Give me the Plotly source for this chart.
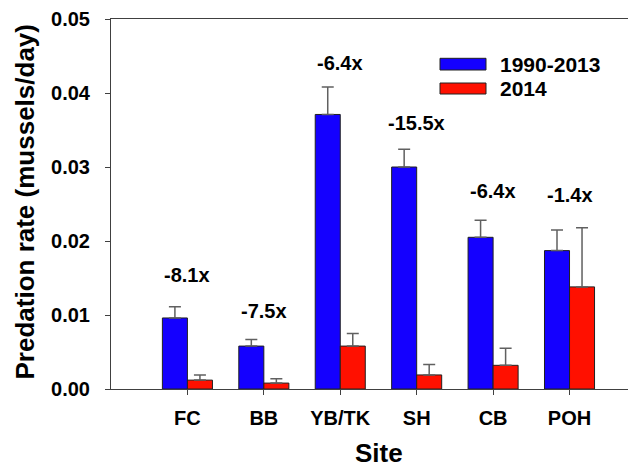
import plotly.graph_objects as go

sites = ["FC", "BB", "YB/TK", "SH", "CB", "POH"]
rate_1990_2013 = [0.0096, 0.0058, 0.0371, 0.0300, 0.0205, 0.0187]
err_1990_2013 = [0.0015, 0.0009, 0.0037, 0.0024, 0.0023, 0.0028]
rate_2014 = [0.0012, 0.0008, 0.0058, 0.0019, 0.0032, 0.0138]
err_2014 = [0.0007, 0.0006, 0.0017, 0.0014, 0.0023, 0.0080]
change_labels = ["-8.1x", "-7.5x", "-6.4x", "-15.5x", "-6.4x", "-1.4x"]
label_y = [0.0154, 0.0106, 0.0440, 0.0359, 0.0267, 0.0262]
y_ticks = [0, 0.01, 0.02, 0.03, 0.04, 0.05]
y_ticktext = ["0.00", "0.01", "0.02", "0.03", "0.04", "0.05"]
series_names = ["1990-2013", "2014"]
colors = ["#1400FF", "#FF1000"]

xpos = list(range(1, len(sites) + 1))
FONT = "Liberation Sans, Arial, sans-serif"
OFF = 8  # page body margin
W, H = 636 - OFF, 469 - OFF
L, R, T = 111 - OFF, 0, 19 - OFF
B = H - (389 - OFF)
PW, PH = W - L - R, H - T - B


def px(x):
    return (x - OFF - L) / PW


def py(y):
    return (H - B - (y - OFF)) / PH


fig = go.Figure()
for name, vals, errs, col in [(series_names[0], rate_1990_2013, err_1990_2013, colors[0]),
                              (series_names[1], rate_2014, err_2014, colors[1])]:
    fig.add_trace(go.Bar(
        x=xpos, y=vals, name=name,
        marker=dict(color=col, line=dict(color="#202020", width=1)),
        error_y=dict(type="data", array=errs, arrayminus=[0] * len(errs), symmetric=False,
                     color="#606060", thickness=1.5, width=6),
    ))

for x, t, y in zip(xpos, change_labels, label_y):
    fig.add_annotation(x=x, y=y, text=t, showarrow=False, xref="x", yref="y",
                       font=dict(family=FONT, size=20, color="black", weight="bold"))

# custom legend
leg_items = [(series_names[0], colors[0], 58.3, 70.0), (series_names[1], colors[1], 83.0, 94.0)]
for name, col, y0, y1 in leg_items:
    fig.add_shape(type="rect", xref="paper", yref="paper",
                  x0=px(440), x1=px(486), y0=py(y1), y1=py(y0),
                  fillcolor=col, line=dict(color="#202020", width=1))
    fig.add_annotation(xref="paper", yref="paper", x=px(498), y=py((y0 + y1) / 2),
                       text=name, showarrow=False, xanchor="left", yanchor="middle",
                       font=dict(family=FONT, size=21, color="black", weight="bold"))

# axis titles
fig.add_annotation(xref="paper", yref="paper", x=px(379), y=py(453), text="Site",
                   showarrow=False, xanchor="center", yanchor="middle",
                   font=dict(family=FONT, size=26, color="black", weight="bold"))
fig.add_annotation(xref="paper", yref="paper", x=px(24), y=py(202.5), text="Predation rate (mussels/day)",
                   showarrow=False, xanchor="center", yanchor="middle", textangle=-90,
                   font=dict(family=FONT, size=26, color="black", weight="bold"))

fig.update_layout(
    width=W, height=H,
    margin=dict(l=L, r=R, t=T, b=B),
    paper_bgcolor="white", plot_bgcolor="white",
    barmode="group", bargap=0.345, bargroupgap=0,
    showlegend=False,
    font=dict(family=FONT, color="black"),
    xaxis=dict(
        range=[0, 6.87], tickvals=xpos, ticktext=sites,
        showline=True, linecolor="#404040", linewidth=1, mirror=True,
        ticks="outside", ticklen=5, tickcolor="#404040",
        showgrid=False, zeroline=False, automargin=False,
        ticklabelstandoff=6, ticklabeloverflow="allow",
        tickfont=dict(family=FONT, size=20, color="black", weight="bold"),
    ),
    yaxis=dict(
        range=[0, 0.05], tickvals=y_ticks, ticktext=y_ticktext,
        showline=True, linecolor="#404040", linewidth=1,
        ticks="outside", ticklen=5, tickcolor="#404040",
        showgrid=False, zeroline=False, automargin=False,
        ticklabelstandoff=11, ticklabeloverflow="allow",
        tickfont=dict(family=FONT, size=20, color="black", weight="bold"),
    ),
)

fig.write_html("out.html")
